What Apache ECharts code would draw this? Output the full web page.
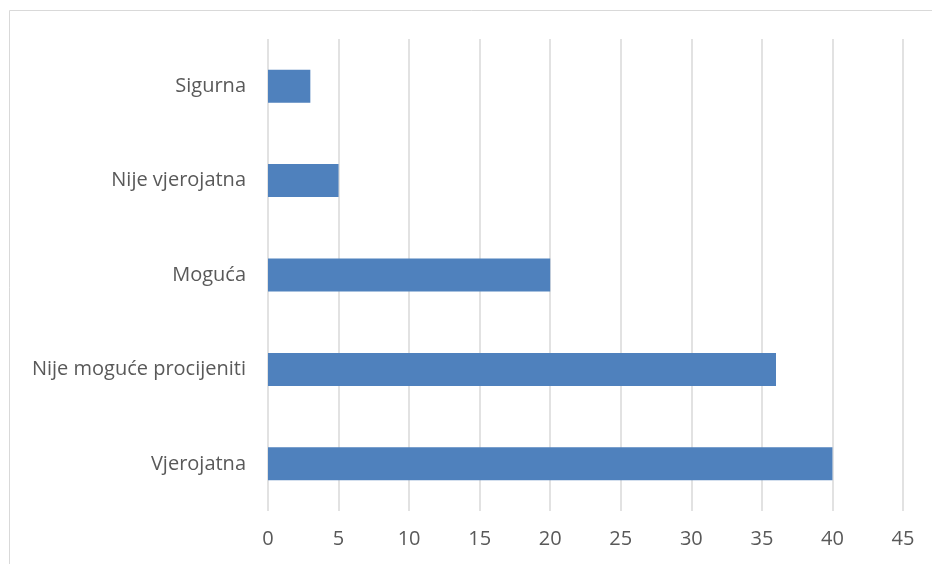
<!DOCTYPE html>
<html>
<head>
<meta charset="utf-8">
<script src="https://cdn.jsdelivr.net/npm/echarts@6/dist/echarts.min.js"></script>
<style>
  html, body { margin: 0; padding: 0; background: #fff; }
  #chart { width: 932px; height: 564px; }
</style>
</head>
<body>
<div id="chart"></div>
<script>
// bottom to top, as on the category axis
var categories = ["Vjerojatna", "Nije moguće procijeniti", "Moguća", "Nije vjerojatna", "Sigurna"];
var values = [40, 36, 20, 5, 3];
var xTicks = { min: 0, max: 45, interval: 5 };

var myChart = echarts.init(document.getElementById("chart"));
myChart.setOption({
  animation: false,
  textStyle: { fontFamily: "Open Sans" },
  graphic: [
    {
      type: "rect",
      shape: { x: 9.5, y: 10.5, width: 940, height: 570 },
      style: { fill: "none", stroke: "#d9d9d9", lineWidth: 1 }
    }
  ],
  grid: { left: 268, right: 29, top: 39, bottom: 53 },
  xAxis: {
    type: "value",
    min: xTicks.min,
    max: xTicks.max,
    interval: xTicks.interval,
    axisLine: { show: false },
    axisTick: { show: false },
    axisLabel: { color: "#595959", fontSize: 20, margin: 18 },
    splitLine: { lineStyle: { color: "#d9d9d9", width: 1.5 } }
  },
  yAxis: {
    type: "category",
    data: categories,
    axisLine: { show: false },
    axisTick: { show: false },
    axisLabel: { color: "#595959", fontSize: 20, margin: 22 }
  },
  series: [
    {
      type: "bar",
      data: values,
      barWidth: 33,
      itemStyle: { color: "#4f81bd" }
    }
  ]
});
</script>
</body>
</html>
